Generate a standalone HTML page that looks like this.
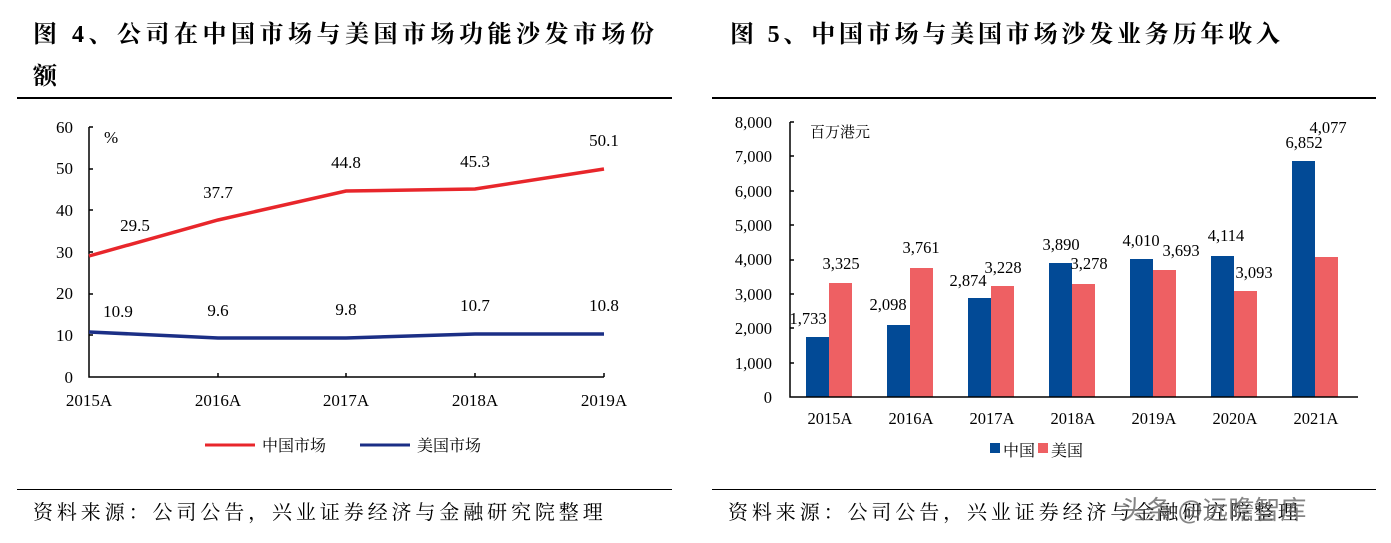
<!DOCTYPE html>
<html><head><meta charset="utf-8"><style>
body{margin:0;background:#fff;width:1391px;height:543px;overflow:hidden;position:relative;font-family:"Liberation Serif","Noto Serif CJK SC",serif}
.t{position:absolute;font-weight:bold;font-size:24px;color:#000;letter-spacing:4.5px;white-space:nowrap}
.s{position:absolute;font-size:20px;color:#000;letter-spacing:3.9px;white-space:nowrap;font-family:"Liberation Serif","Noto Serif CJK SC",serif}
.hl{position:absolute;height:2px;background:#000}
</style></head><body>
<div class="t" style="left:33px;top:14px">图 4、公司在中国市场与美国市场功能沙发市场份</div>
<div class="t" style="left:33px;top:56px">额</div>
<div class="t" style="left:730px;top:14px;letter-spacing:3.8px">图 5、中国市场与美国市场沙发业务历年收入</div>
<div class="hl" style="left:17px;top:97px;width:655px"></div>
<div class="hl" style="left:712px;top:97px;width:664px"></div>
<div class="hl" style="left:17px;top:489px;width:655px;height:1px"></div>
<div class="hl" style="left:712px;top:489px;width:664px;height:1px"></div>
<div class="s" style="left:33px;top:496px">资料来源：公司公告，兴业证券经济与金融研究院整理</div>
<div class="s" style="left:728px;top:496px">资料来源：公司公告，兴业证券经济与金融研究院整理</div>
<div style="position:absolute;left:1120px;top:490px;font-size:26px;color:#666;font-family:'Noto Sans CJK SC',sans-serif;opacity:.8">头条 @远瞻智库</div>
<svg width="1391" height="543" style="position:absolute;left:0;top:0" font-family="Liberation Serif, Noto Serif CJK SC, serif" font-size="17">
<g text-anchor="end">
<text x="73" y="383">0</text><text x="73" y="341">10</text><text x="73" y="299">20</text><text x="73" y="258">30</text><text x="73" y="216">40</text><text x="73" y="174">50</text><text x="73" y="133">60</text>
</g>
<text x="104" y="143">%</text>
<path d="M89 127V377H604M89 127h4M89 169h4M89 210h4M89 252h4M89 294h4M89 335h4M218 377v-4M346 377v-4M475 377v-4M604 377v-4" stroke="#000" stroke-width="1.5" fill="none"/>
<g text-anchor="middle">
<text x="89" y="406">2015A</text><text x="218" y="406">2016A</text><text x="346" y="406">2017A</text><text x="475" y="406">2018A</text><text x="604" y="406">2019A</text>
<text x="135" y="231">29.5</text><text x="218" y="198">37.7</text><text x="346" y="168">44.8</text><text x="475" y="167">45.3</text><text x="604" y="146">50.1</text>
<text x="118" y="317">10.9</text><text x="218" y="316">9.6</text><text x="346" y="315">9.8</text><text x="475" y="311">10.7</text><text x="604" y="311">10.8</text>
</g>
<polyline points="89,256 218,220 346,191 475,189 604,169" stroke="#e8262b" stroke-width="3.5" fill="none"/>
<polyline points="89,332 218,338 346,338 475,334 604,334" stroke="#1b2f86" stroke-width="3.5" fill="none"/>
<line x1="205" y1="445" x2="255" y2="445" stroke="#e8262b" stroke-width="3"/>
<text x="262" y="451" font-size="16">中国市场</text>
<line x1="360" y1="445" x2="410" y2="445" stroke="#1b2f86" stroke-width="3"/>
<text x="417" y="451" font-size="16">美国市场</text>

<g text-anchor="end" font-size="16.5">
<text x="772" y="403">0</text><text x="772" y="369">1,000</text><text x="772" y="334">2,000</text><text x="772" y="300">3,000</text><text x="772" y="265">4,000</text><text x="772" y="231">5,000</text><text x="772" y="197">6,000</text><text x="772" y="162">7,000</text><text x="772" y="128">8,000</text>
</g>
<text x="810" y="137" font-size="15">百万港元</text>
<g fill="#024a96">
<rect x="806" y="337" width="23" height="60"/><rect x="887" y="325" width="23" height="72"/><rect x="968" y="298" width="23" height="99"/><rect x="1049" y="263" width="23" height="134"/><rect x="1130" y="259" width="23" height="138"/><rect x="1211" y="256" width="23" height="141"/><rect x="1292" y="161" width="23" height="236"/>
</g>
<g fill="#ee6063">
<rect x="829" y="283" width="23" height="114"/><rect x="910" y="268" width="23" height="129"/><rect x="991" y="286" width="23" height="111"/><rect x="1072" y="284" width="23" height="113"/><rect x="1153" y="270" width="23" height="127"/><rect x="1234" y="291" width="23" height="106"/><rect x="1315" y="257" width="23" height="140"/>
</g>
<path d="M790 122V397H1358M790 122h4M790 156h4M790 191h4M790 225h4M790 260h4M790 294h4M790 328h4M790 363h4" stroke="#000" stroke-width="1.5" fill="none"/>
<g text-anchor="middle" font-size="16.5">
<text x="830" y="424">2015A</text><text x="911" y="424">2016A</text><text x="992" y="424">2017A</text><text x="1073" y="424">2018A</text><text x="1154" y="424">2019A</text><text x="1235" y="424">2020A</text><text x="1316" y="424">2021A</text>
<text x="808" y="324">1,733</text><text x="841" y="269">3,325</text><text x="888" y="310">2,098</text><text x="921" y="253">3,761</text><text x="968" y="286">2,874</text><text x="1003" y="273">3,228</text><text x="1061" y="250">3,890</text><text x="1089" y="269">3,278</text><text x="1141" y="246">4,010</text><text x="1181" y="256">3,693</text><text x="1226" y="241">4,114</text><text x="1254" y="278">3,093</text><text x="1304" y="148">6,852</text><text x="1328" y="133">4,077</text>
</g>
<rect x="990" y="443" width="10" height="10" fill="#024a96"/>
<text x="1003" y="456" font-size="16">中国</text>
<rect x="1038" y="443" width="10" height="10" fill="#ee6063"/>
<text x="1051" y="456" font-size="16">美国</text>
</svg>
</body></html>
